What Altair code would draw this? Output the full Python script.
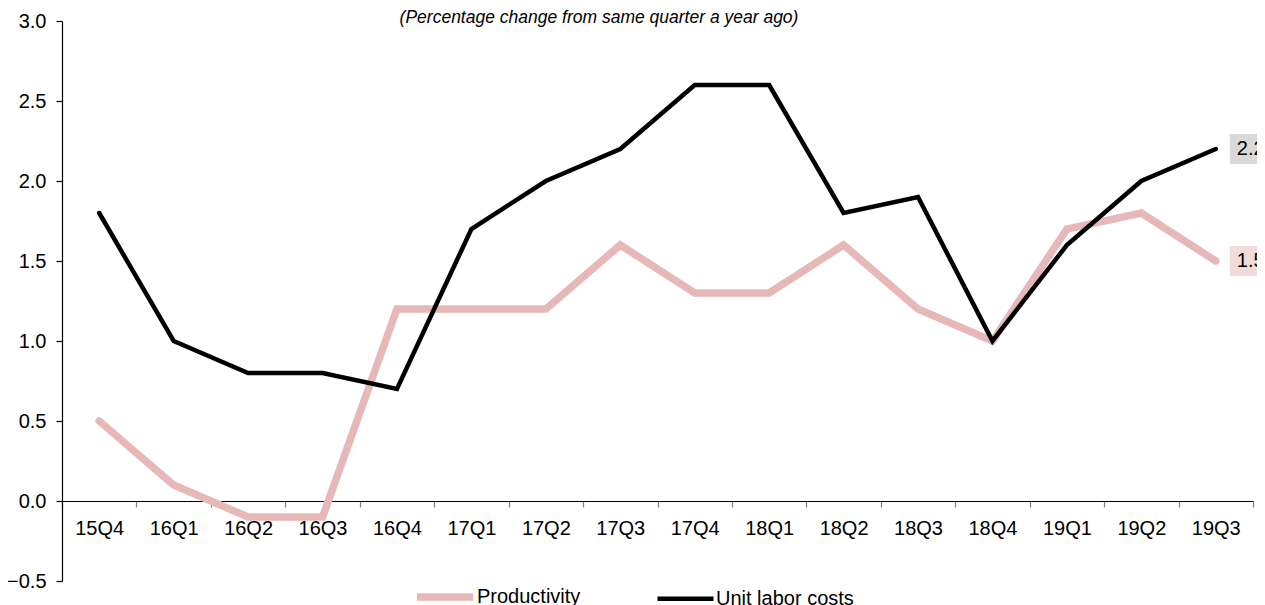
import altair as alt
import pandas as pd

quarters = ["15Q4", "16Q1", "16Q2", "16Q3", "16Q4", "17Q1", "17Q2", "17Q3",
            "17Q4", "18Q1", "18Q2", "18Q3", "18Q4", "19Q1", "19Q2", "19Q3"]
productivity = [0.5, 0.1, -0.1, -0.1, 1.2, 1.2, 1.2, 1.6, 1.3, 1.3, 1.6, 1.2, 1.0, 1.7, 1.8, 1.5]
unit_labor_costs = [1.8, 1.0, 0.8, 0.8, 0.7, 1.7, 2.0, 2.2, 2.6, 2.6, 1.8, 1.9, 1.0, 1.6, 2.0, 2.2]
series_names = ["Productivity", "Unit labor costs"]
series_colors = ["#e6b9b8", "#000000"]
label_bg = ["#f2dcdb", "#d9d9d9"]
y_ticks = [-0.5, 0.0, 0.5, 1.0, 1.5, 2.0, 2.5, 3.0]
title_text = "(Percentage change from same quarter a year ago)"

FONT = "Liberation Sans, Arial"

rows = []
for q, p, u in zip(quarters, productivity, unit_labor_costs):
    rows.append({"q": q, "series": series_names[0], "value": p, "order": 0})
    rows.append({"q": q, "series": series_names[1], "value": u, "order": 1})
df = pd.DataFrame(rows)

last = pd.DataFrame([
    {"q": quarters[-1], "series": series_names[0], "value": productivity[-1],
     "label": f"{productivity[-1]:.1f}", "bg": label_bg[0]},
    {"q": quarters[-1], "series": series_names[1], "value": unit_labor_costs[-1],
     "label": f"{unit_labor_costs[-1]:.1f}", "bg": label_bg[1]},
])

W, H = 1191, 560

x_enc = alt.X("q:N", sort=quarters, bandPosition=0.5,
              scale=alt.Scale(type="band", domain=quarters, paddingInner=0, paddingOuter=0),
              axis=alt.Axis(title=None, offset=-80, tickBand="extent", domainColor="#000000",
                            tickColor="#808080", tickSize=6, labelFont=FONT, labelFontSize=20,
                            labelColor="#000000", labelPadding=11, labelAngle=0,
                            domainWidth=1.2, tickWidth=1.2))
y_scale = alt.Scale(domain=[-0.5, 3.0], nice=False, zero=False)

lines = alt.Chart(df).mark_line(strokeCap="round", strokeJoin="miter").encode(
    x=x_enc,
    y=alt.Y("value:Q", scale=y_scale,
            axis=alt.Axis(title=None, values=y_ticks, format=".1f", grid=False,
                          domainColor="#000000", tickColor="#000000", tickSize=6,
                          labelFont=FONT, labelFontSize=20, labelColor="#000000",
                          labelPadding=10, domainWidth=1.2, tickWidth=1.2)),
    color=alt.Color("series:N", scale=alt.Scale(domain=series_names, range=series_colors),
                    legend=alt.Legend(title=None, orient="none", direction="horizontal",
                                      legendX=351, legendY=544, symbolType="stroke",
                                      symbolSize=3136, symbolStrokeWidth=6,
                                      labelFont=FONT, labelFontSize=20, labelColor="#000000",
                                      labelOffset=0, columnPadding=67, padding=0, offset=0)),
    strokeWidth=alt.StrokeWidth("series:N",
                                scale=alt.Scale(domain=series_names, range=[7.5, 4.5]),
                                legend=None),
    order=alt.Order("order:Q"),
    detail="series:N",
)

boxes = alt.Chart(last).mark_point(
    shape="M-1,-0.6H1V0.6H-1Z", filled=True, opacity=1, strokeWidth=0, size=2500, xOffset=39
).encode(
    x=alt.X("q:N", sort=quarters, bandPosition=0.5),
    y=alt.Y("value:Q"),
    fill=alt.Fill("bg:N", scale=None),
)

labels = alt.Chart(last).mark_text(
    align="left", baseline="middle", font=FONT, fontSize=20, color="#000000", dx=21
).encode(
    x=alt.X("q:N", sort=quarters, bandPosition=0.5),
    y=alt.Y("value:Q"),
    text="label:N",
)

title = alt.Chart(pd.DataFrame({"t": [title_text]})).mark_text(
    align="center", baseline="top", font=FONT, fontSize=17.5, fontStyle="italic",
    color="#000000"
).encode(
    x=alt.value(537), y=alt.value(-12), text="t:N"
)

chart = alt.layer(lines, boxes, labels, title).properties(
    width=W, height=H,
    autosize=alt.AutoSizeParams(type="none"),
    padding={"left": 54, "top": 13, "right": 4, "bottom": 24},
).configure_view(stroke=None)

chart.save("out.html", embed_options={"renderer": "svg", "actions": False})
